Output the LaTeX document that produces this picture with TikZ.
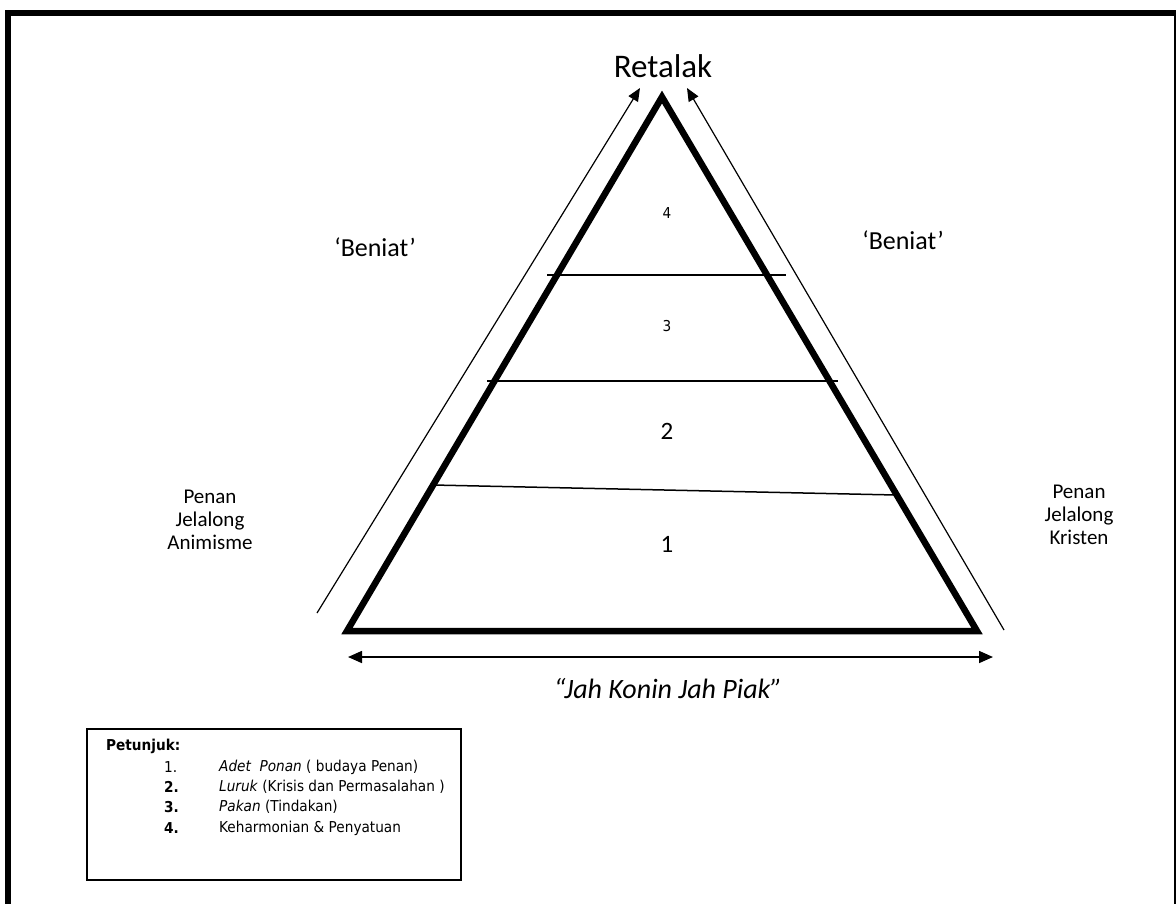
\documentclass[tikz,border=0pt]{standalone}
\usepackage{fontspec}
\setmainfont{Carlito}
\newfontfamily\tahoma[FakeStretch=0.91]{DejaVu Sans}
\usetikzlibrary{arrows.meta}

\begin{document}
\begin{tikzpicture}[x=1pt, y=-1pt,
  pyr/.style={line width=6.5pt, line join=miter},
  tier/.style={line width=1.5pt},
  side/.style={line width=1.2pt, -{Triangle[length=13pt, width=11pt]}},
  hint/.style={anchor=west, inner sep=0pt, font=\tahoma\fontsize{15}{17}\selectfont}]

\useasboundingbox (0,0) rectangle (1176,903);
\clip (0,0) rectangle (1176,903);
\draw[line width=6pt] (8,13) rectangle (1177,907);

% the pyramid
\coordinate (top) at (662,97);
\coordinate (bl) at (347,631);
\coordinate (br) at (977,631);
\draw[pyr] (bl) -- (top) -- (br) -- cycle;

\coordinate (t1l) at (547,275);
\coordinate (t1r) at (786,275);
\coordinate (t2l) at (487,381);
\coordinate (t2r) at (838,381);
\coordinate (t3l) at (433,485);
\coordinate (t3r) at (896,495);
\draw[tier] (t1l) -- (t1r);
\draw[tier] (t2l) -- (t2r);
\draw[tier] (t3l) -- (t3r);

\node[font=\tahoma\fontsize{15}{17}\selectfont] (n4) at (667,213) {4};
\node[font=\tahoma\fontsize{15}{17}\selectfont] (n3) at (667,326) {3};
\node[font=\fontsize{25}{28}\selectfont] (n2) at (667,431) {2};
\node[font=\fontsize{25}{28}\selectfont] (n1) at (667,544) {1};

\node[font=\fontsize{33}{36}\selectfont] (ret) at (663,66) {Retalak};

% the two ways up
\coordinate (lfoot) at (317,613);
\coordinate (ltip) at (640,88);
\coordinate (rfoot) at (1004,630);
\coordinate (rtip) at (687,88);
\draw[side] (lfoot) -- (ltip);
\draw[side] (rfoot) -- (rtip);

\node[font=\fontsize{26}{28}\selectfont] (benl) at (375,247) {`Beniat'};
\node[font=\fontsize{26}{28}\selectfont] (benr) at (903,240) {`Beniat'};

\node[align=center, font=\fontsize{21}{23}\selectfont] (anim) at (210,520)
  {Penan\\Jelalong\\Animisme};
\node[align=center, font=\fontsize{21}{23}\selectfont] (krist) at (1079,515)
  {Penan\\Jelalong\\Kristen};

% base
\coordinate (bw) at (348,657);
\coordinate (be) at (993,657);
\draw[line width=1.6pt, {Triangle[length=14pt, width=12pt]}-{Triangle[length=14pt, width=12pt]}] (bw) -- (be);
\node[font=\fontsize{28}{30}\selectfont\itshape] (motto) at (668,689) {``Jah Konin Jah Piak''};

% legend
\draw[line width=1.3pt] (87,729) rectangle (461,880);
\node[hint] (pet) at (106,746) {\bfseries Petunjuk:};
\node[hint] (k1) at (164,767) {1.};
\node[hint] (k2) at (164,787) {\bfseries 2.};
\node[hint] (k3) at (164,807) {\bfseries 3.};
\node[hint] (k4) at (164,828) {\bfseries 4.};
\node[hint] (h1) at (219,767) {\itshape Adet\ \ Ponan\/\upshape\ ( budaya Penan)};
\node[hint] (h2) at (219,787) {\itshape Luruk\/\upshape\ (Krisis dan Permasalahan )};
\node[hint] (h3) at (219,807) {\itshape Pakan\/\upshape\ (Tindakan)};
\node[hint] (h4) at (219,828) {Keharmonian \& Penyatuan};

\end{tikzpicture}
\end{document}
